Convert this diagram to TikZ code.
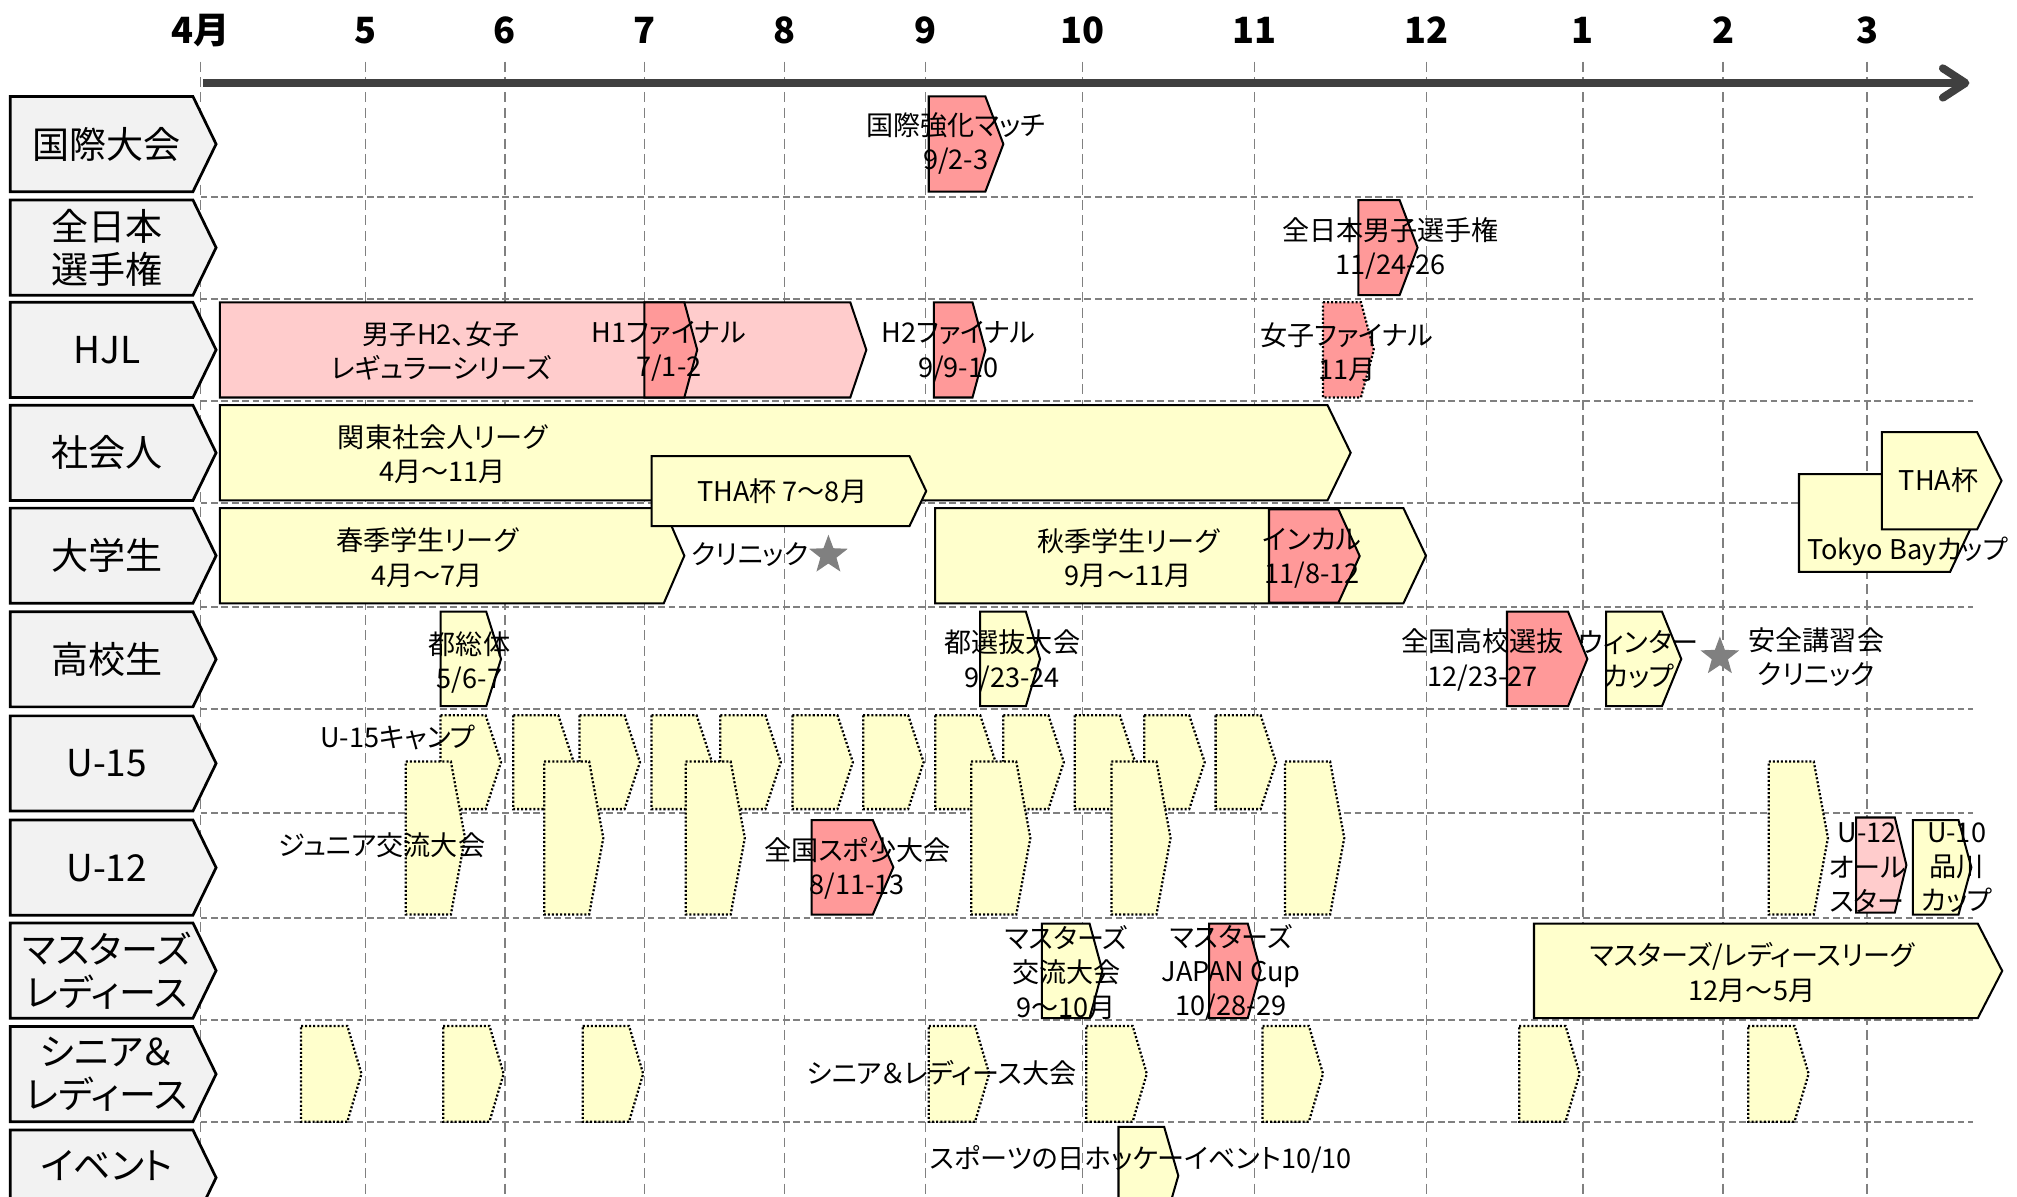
\documentclass[tikz,border=0pt]{standalone}
\usepackage{fontspec}
\setmainfont{Noto Sans CJK JP}[RawFeature=+palt]
\usetikzlibrary{arrows.meta,shapes.geometric}
\definecolor{evred}{HTML}{FF9999}
\definecolor{evpink}{HTML}{FFCCCC}
\definecolor{evyel}{HTML}{FFFFCC}
\definecolor{lblgray}{HTML}{F2F2F2}
\definecolor{gridgray}{HTML}{808080}
\definecolor{axisgray}{HTML}{404040}
\tikzset{
  vgrd/.style   ={draw=gridgray, line width=0.6pt, dash pattern=on 4.4pt off 2.4pt},
  hgrd/.style   ={draw=gridgray, line width=0.9pt, dash pattern=on 3pt off 1.6pt},
  axisarr/.style={draw=axisgray, line width=3.5pt, -{Straight Barb[length=10pt,width=13pt,round]}},
  rowlbl/.style ={draw=black, line width=1.2pt, fill=lblgray},
  rowtxt/.style ={font=\fontsize{16.4}{18.8}\selectfont, align=center, inner sep=0pt},
  mon/.style    ={font=\bfseries\fontsize{16}{16}\selectfont, anchor=base, inner sep=0pt},
  evr/.style    ={draw=black, line width=0.9pt, fill=evred},
  evp/.style    ={draw=black, line width=0.9pt, fill=evpink},
  evy/.style    ={draw=black, line width=0.9pt, fill=evyel},
  evyd/.style   ={draw=black, line width=1pt, dash pattern=on 0.9pt off 0.9pt, fill=evyel},
  evrd/.style   ={draw=black, line width=1pt, dash pattern=on 0.9pt off 0.9pt, fill=evred},
  lbl/.style    ={font=\fontsize{12}{15.2}\selectfont, align=center, inner sep=0pt},
  starmk/.style ={star, star points=5, star point ratio=2.4, fill=gridgray, minimum size=18pt, inner sep=0pt},
}
% event box: [tip depth]{style}{left}{tip}{top}{bottom}
\newcommand{\evt}[6][14]{\draw[#2] (#3,#5) -- ({#4-#1},#5) -- (#4,{(#5+#6)/2}) -- ({#4-#1},#6) -- (#3,#6) -- cycle;}

\begin{document}
\begin{tikzpicture}[x=0.02cm, y=-0.02cm]
  \clip (0,0) rectangle (1568,930);

  % months and grid
  \foreach \x/\m [count=\k] in {156/4月,284/5,392.5/6,501/7,610/8,719.5/9,841.5/10,975/11,1109/12,1230.5/1,1339.5/2,1451.5/3}{
    \node[mon] (mon\k) at (\x,33.5) {\m};
    \draw[vgrd] (\x,48) -- (\x,930);
  }
  \foreach \y in {153,232.5,312,391,472,551,632,713.5,793,872}
    \draw[hgrd] (156,\y) -- (1534,\y);
  \coordinate (axs) at (158,64.5);
  \coordinate (axe) at (1531,64.5);
  \draw[axisarr] (axs) -- (axe);

  % row labels
  \foreach \yt in {75,155.5,235,315,395,475.5,556.5,637.5,717.5,798,878.5}
    \draw[rowlbl] (8,\yt) -- (150,\yt) -- (168,\yt+37) -- (150,\yt+74) -- (8,\yt+74) -- cycle;
  \node[rowtxt] (lintl)   at (83,112)   {国際大会};
  \node[rowtxt] (ljpn)    at (83,192.5) {全日本\\選手権};
  \node[rowtxt] (lhjl)    at (83,272.5) {HJL};
  \node[rowtxt] (lwork)   at (83,352)   {社会人};
  \node[rowtxt] (luniv)   at (83,432)   {大学生};
  \node[rowtxt] (lhigh)   at (83,512.5) {高校生};
  \node[rowtxt] (lu15)    at (83,593.5) {U-15};
  \node[rowtxt] (lu12)    at (83,674.5) {U-12};
  \node[rowtxt] (lmst)    at (83,754.5) {マスターズ\\レディース};
  \node[rowtxt] (lsenior) at (83,835)   {シニア＆\\レディース};
  \node[rowtxt] (levent)  at (83,906)   {イベント};

  % events
  \evt{evr}{722}{780}{75}{149}
  \evt{evr}{1056}{1102}{155.5}{229.5}
  \evt[12.5]{evp}{171}{673.5}{235}{309}
  \evt[10]{evr}{501}{542}{235}{309}
  \evt[10]{evr}{726}{766}{235}{309}
  \evt[10]{evrd}{1028.5}{1068}{235}{309}
  \evt[18]{evy}{171}{1050}{315}{389}
  \evt[16]{evy}{171}{532}{395}{469}
  \evt[13]{evy}{506.5}{720}{354.5}{409}
  \evt[18]{evy}{1398.5}{1534}{368.5}{444.5}
  \evt[19]{evy}{1463}{1556}{336}{411.5}
  \evt[17.5]{evy}{727}{1108.5}{395}{469}
  \evt[16.5]{evr}{986.5}{1057}{396}{468.5}
  \evt[11.5]{evy}{342.5}{389.5}{475.5}{549}
  \evt[11]{evy}{762}{808.5}{475.5}{549}
  \evt[15]{evr}{1171.5}{1234}{475.5}{549}
  \evt[15]{evy}{1248.5}{1307}{475.5}{549}
  \foreach \x in {342.5,399,450.5,506.5,560,616,671,727,780,835.5,889.5,945}{
    \evt[12]{evyd}{\x}{\x+47}{556}{629}
  }
  \foreach \x in {315.5,423,533,755,864,999,1375}{
    \evt[11]{evyd}{\x}{\x+46}{592}{711}
  }
  \evt[16]{evr}{631}{694.5}{637.5}{711}
  \evt[9]{evp}{1443}{1482}{635.5}{709.5}
  \evt[10]{evy}{1487}{1532.5}{637.5}{711}
  \evt[10]{evy}{810}{857}{718}{791.5}
  \evt[10]{evr}{940}{980}{718}{791.5}
  \evt[19]{evy}{1192.5}{1556.5}{718}{791.5}
  \foreach \x in {234,344.5,453,722,844.5,981.5,1181,1359}{
    \evt[11]{evyd}{\x}{\x+47}{797.5}{872}
  }
  \evt[11]{evy}{869.5}{916}{876}{952}

  % event labels
  \node[lbl] (intl)       at (743,111.5)   {国際強化マッチ\\9/2-3};
  \node[lbl] (jpn)        at (1081,193)    {全日本男子選手権\\11/24-26};
  \node[lbl] (hjlreg)     at (343,273)     {男子H2、女子\\レギュラーシリーズ};
  \node[lbl] (h1fin)      at (520,273)     {H1ファイナル\\7/1-2};
  \node[lbl] (h2fin)      at (745,273.5)   {H2ファイナル\\9/9-10};
  \node[lbl] (wfin)       at (1047,274)    {女子ファイナル\\11月};
  \node[lbl] (kanto)      at (344,353)     {関東社会人リーグ\\4月～11月};
  \node[lbl] (tha)        at (608,382)     {THA杯 7～8月};
  \node[lbl] (thacup)     at (1507,373)    {THA杯};
  \node[lbl] (tokyobay)   at (1483,429)    {Tokyo Bayカップ};
  \node[lbl] (spring)     at (332,433.5)   {春季学生リーグ\\4月～7月};
  \node[lbl] (clinic)     at (583,431.5)   {クリニック};
  \node[starmk] (star1)   at (644,431.5)   {};
  \node[lbl] (autumn)     at (877,434)     {秋季学生リーグ\\9月～11月};
  \node[lbl] (incal)      at (1020,434)    {インカル\\11/8-12};
  \node[lbl] (tosoutai)   at (365,515)     {都総体\\5/6-7};
  \node[lbl] (tosenbatsu) at (787,514)     {都選抜大会\\9/23-24};
  \node[lbl] (hssenbatsu) at (1152.5,513)  {全国高校選抜\\12/23-27};
  \node[lbl] (winter)     at (1274,512.5)  {ウィンター\\カップ};
  \node[starmk] (star2)   at (1337,510.5)  {};
  \node[lbl] (safety)     at (1412,511)    {安全講習会\\クリニック};
  \node[lbl] (u15camp)    at (309,573)     {U-15キャンプ};
  \node[lbl] (junior)     at (297,657)     {ジュニア交流大会};
  \node[lbl] (supo)       at (666.5,675)   {全国スポ少大会\\8/11-13};
  \node[lbl] (u12all)     at (1451.5,674.5){U-12\\オール\\スター};
  \node[lbl] (u10)        at (1521,674.5)  {U-10\\品川\\カップ};
  \node[lbl] (mxchg)      at (829,756)     {マスターズ\\交流大会\\9～10月};
  \node[lbl] (mjapan)     at (957,756)     {マスターズ\\JAPAN Cup\\10/28-29};
  \node[lbl] (mleague)    at (1362,756)    {マスターズ/レディースリーグ\\12月～5月};
  \node[lbl] (senior)     at (732,834.5)   {シニア＆レディース大会};
  \node[lbl] (sportsday)  at (887,901.5)   {スポーツの日ホッケーイベント10/10};
\end{tikzpicture}
\end{document}
